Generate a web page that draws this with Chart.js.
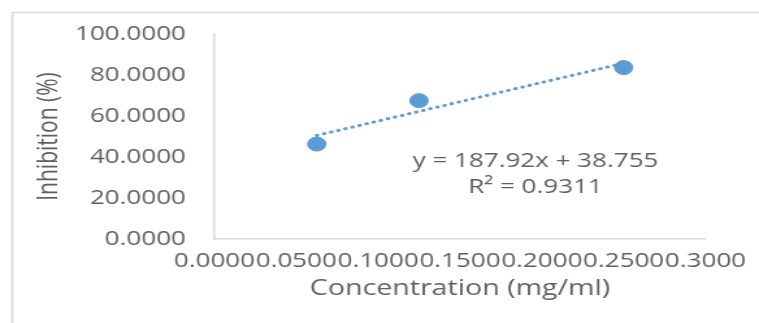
<!DOCTYPE html>
<html>
<head>
<meta charset="utf-8">
<script src="https://cdn.jsdelivr.net/npm/chart.js@4"></script>
<style>
  html, body { margin: 0; padding: 0; background: #fff; overflow: hidden; }
  /* the reference image is stretched sideways, so draw narrow and widen */
  #wrap { width: 584px; height: 323px; transform: scaleX(1.2997); transform-origin: 0 0; }
</style>
</head>
<body>
<div id="wrap"><canvas id="chart"></canvas></div>
<script>
const concentration = [0.0625, 0.125, 0.25];
const inhibition = [46.3, 67.5, 83.6];
const xTickValues = [0, 0.05, 0.1, 0.15, 0.2, 0.25, 0.3];
const yTickValues = [0, 20, 40, 60, 80, 100];
const slope = 187.92;
const intercept = 38.755;
const equationLines = ['y = 187.92x + 38.755', 'R\u00b2 = 0.9311'];

const textGrey = '#5f5f5f';
const lineGrey = '#d9d9d9';
const blue = '#5b9bd5';
const font = "'Open Sans', sans-serif";

const xFirst = concentration[0];
const xLast = concentration[concentration.length - 1];
const trend = [
  { x: xFirst, y: slope * xFirst + intercept },
  { x: xLast, y: slope * xLast + intercept }
];

const frame = {
  id: 'frame',
  beforeDraw(chart) {
    const ctx = chart.ctx;
    ctx.save();
    ctx.strokeStyle = lineGrey;
    ctx.lineWidth = 1.6;
    ctx.beginPath();
    ctx.moveTo(9.5, chart.height + 2);
    ctx.lineTo(9.5, 12.5);
    ctx.lineTo(chart.width + 2, 12.5);
    ctx.stroke();
    ctx.restore();
  }
};

const equation = {
  id: 'equation',
  afterDatasetsDraw(chart) {
    const ctx = chart.ctx;
    ctx.save();
    ctx.fillStyle = textGrey;
    ctx.font = '20px ' + font;
    ctx.textAlign = 'center';
    ctx.textBaseline = 'middle';
    ctx.fillText(equationLines[0], 412, 161);
    ctx.fillText(equationLines[1], 412, 187);
    ctx.restore();
  }
};

new Chart(document.getElementById('chart'), {
  type: 'scatter',
  data: {
    datasets: [
      {
        label: 'Inhibition',
        data: concentration.map((c, i) => ({ x: c, y: inhibition[i] })),
        backgroundColor: blue,
        borderColor: blue,
        pointRadius: 7,
        pointHoverRadius: 7,
        order: 0
      },
      {
        type: 'line',
        label: 'Trend',
        data: trend,
        borderColor: blue,
        borderWidth: 3,
        borderDash: [0.5, 5.2],
        borderCapStyle: 'round',
        pointRadius: 0,
        fill: false,
        order: 1
      }
    ]
  },
  options: {
    responsive: true,
    maintainAspectRatio: false,
    animation: false,
    layout: { padding: { top: 33, right: 38, left: 0, bottom: 0 } },
    plugins: { legend: { display: false }, tooltip: { enabled: false } },
    scales: {
      x: {
        type: 'linear',
        min: 0,
        max: 0.3,
        afterBuildTicks: s => { s.ticks = xTickValues.map(v => ({ value: v })); },
        afterFit: s => { s.height = 84; },
        grid: { display: false, drawTicks: false },
        border: { display: true, color: lineGrey, width: 1.5 },
        ticks: {
          autoSkip: false,
          maxRotation: 0,
          padding: 10,
          color: textGrey,
          font: { family: font, size: 20 },
          callback: v => Number(v).toFixed(4)
        },
        title: {
          display: true,
          text: 'Concentration (mg/ml)',
          color: textGrey,
          font: { family: font, size: 22 },
          padding: { top: 0, bottom: 21 }
        }
      },
      y: {
        min: 0,
        max: 100,
        afterBuildTicks: s => { s.ticks = yTickValues.map(v => ({ value: v })); },
        afterFit: s => { s.width = 165; },
        grid: { display: false, drawTicks: false },
        border: { display: true, color: lineGrey, width: 1.5 },
        ticks: {
          padding: 22,
          color: textGrey,
          font: { family: font, size: 20 },
          callback: v => Number(v).toFixed(4)
        },
        title: {
          display: true,
          text: 'Inhibition (%)',
          color: textGrey,
          font: { family: font, size: 21 },
          padding: { top: 25, bottom: 0 }
        }
      }
    }
  },
  plugins: [frame, equation]
});
</script>
</body>
</html>
